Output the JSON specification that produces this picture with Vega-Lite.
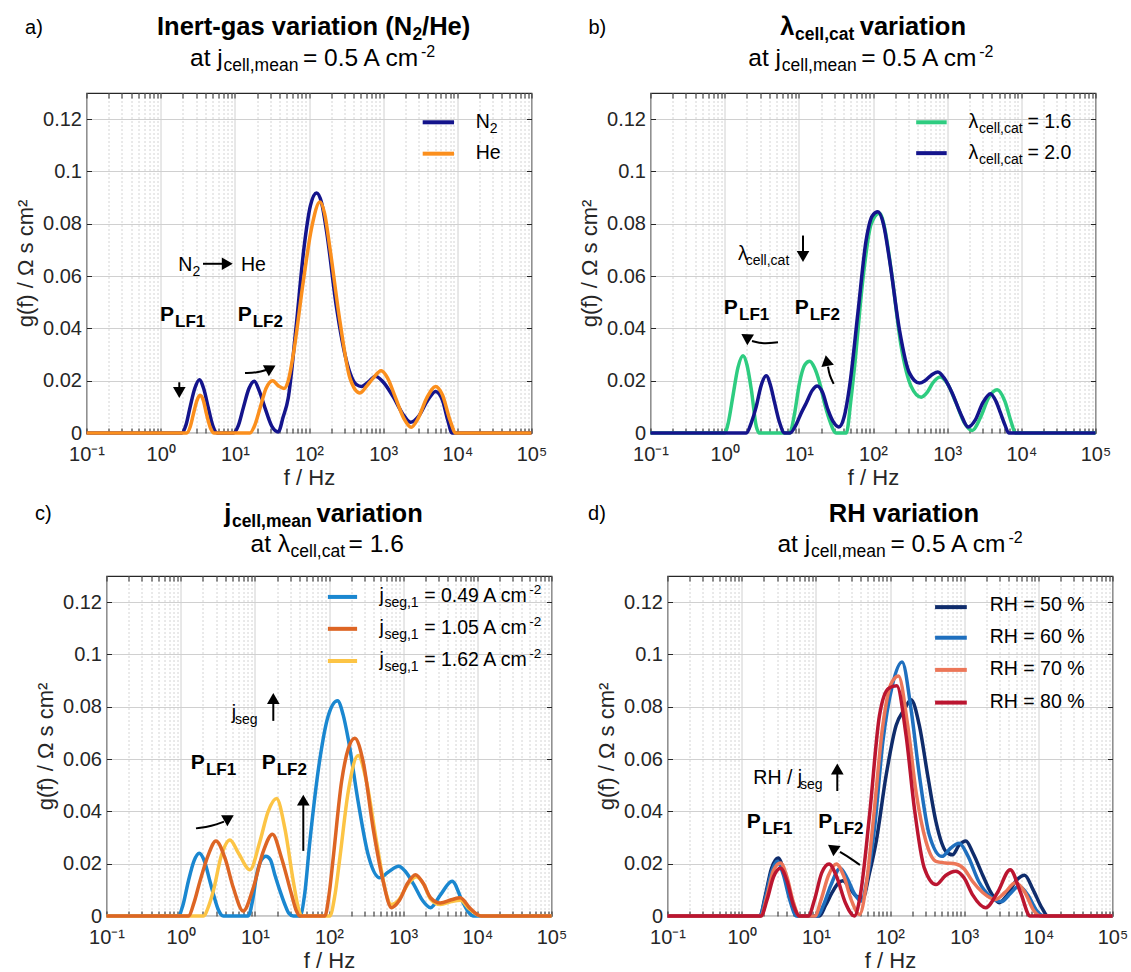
{
"$schema":"https://vega.github.io/schema/vega-lite/v6.json",
"background":"white",
"padding":{"left":13.5,"top":14,"right":5,"bottom":0},
"autosize":{"type":"pad"},
"config":{
 "font":"Liberation Sans",
 "view":{"stroke":"#262626","strokeWidth":1.2},
 "axis":{"labelFont":"Liberation Sans","titleFont":"Liberation Sans","labelColor":"#262626","titleColor":"#262626","titleFontWeight":"normal","domain":false,"ticks":true,"tickSize":-5,"tickColor":"#262626","tickWidth":1},
 "text":{"font":"Liberation Sans","align":"left","baseline":"alphabetic","color":"#000000"},
 "style":{
  "t1":{"fontSize":25.5,"fontWeight":"bold"},
  "t1s":{"fontSize":17.5,"fontWeight":"bold","dy":5},
  "t2":{"fontSize":24.5},
  "t2s":{"fontSize":17.5,"dy":5},
  "t2p":{"fontSize":16,"dy":-9},
  "lab":{"fontSize":20},
  "lg":{"fontSize":19.5},
  "lgs":{"fontSize":14,"dy":5},
  "lgp":{"fontSize":13.5,"dy":-8},
  "P":{"fontSize":21,"fontWeight":"bold"},
  "Ps":{"fontSize":17,"fontWeight":"bold","dy":6}
 }
},
"datasets":{
"r1":[
{"p":"a","k":"c","s":"N2","f":0.1,"g":0},{"p":"a","k":"c","s":"N2","f":1.92,"g":0},{"p":"a","k":"c","s":"N2","f":2.19,"g":0.003},{"p":"a","k":"c","s":"N2","f":2.48,"g":0.0096},{"p":"a","k":"c","s":"N2","f":2.88,"g":0.017},{"p":"a","k":"c","s":"N2","f":3.32,"g":0.0204},{"p":"a","k":"c","s":"N2","f":3.8,"g":0.017},{"p":"a","k":"c","s":"N2","f":4.39,"g":0.0096},{"p":"a","k":"c","s":"N2","f":5.01,"g":0.003},{"p":"a","k":"c","s":"N2","f":5.81,"g":0},{"p":"a","k":"c","s":"N2","f":9.55,"g":0},{"p":"a","k":"c","s":"N2","f":11.2,"g":0.003},{"p":"a","k":"c","s":"N2","f":13,"g":0.0096},{"p":"a","k":"c","s":"N2","f":15.5,"g":0.017},{"p":"a","k":"c","s":"N2","f":18.3,"g":0.0198},{"p":"a","k":"c","s":"N2","f":21.4,"g":0.016},{"p":"a","k":"c","s":"N2","f":25.5,"g":0.0096},{"p":"a","k":"c","s":"N2","f":31.6,"g":0.0025},{"p":"a","k":"c","s":"N2","f":38.5,"g":0.0004},{"p":"a","k":"c","s":"N2","f":44.7,"g":0.006},{"p":"a","k":"c","s":"N2","f":52.5,"g":0.0134},{"p":"a","k":"c","s":"N2","f":66.7,"g":0.04},{"p":"a","k":"c","s":"N2","f":85.5,"g":0.0707},{"p":"a","k":"c","s":"N2","f":104.7,"g":0.087},{"p":"a","k":"c","s":"N2","f":126.5,"g":0.0918},{"p":"a","k":"c","s":"N2","f":147.9,"g":0.088},{"p":"a","k":"c","s":"N2","f":172.6,"g":0.0771},{"p":"a","k":"c","s":"N2","f":235.5,"g":0.0478},{"p":"a","k":"c","s":"N2","f":321.4,"g":0.0274},{"p":"a","k":"c","s":"N2","f":437.5,"g":0.0185},{"p":"a","k":"c","s":"N2","f":511.7,"g":0.0178},{"p":"a","k":"c","s":"N2","f":631,"g":0.0195},{"p":"a","k":"c","s":"N2","f":787,"g":0.0217},{"p":"a","k":"c","s":"N2","f":1000,"g":0.0195},{"p":"a","k":"c","s":"N2","f":1393,"g":0.0134},{"p":"a","k":"c","s":"N2","f":1820,"g":0.0075},{"p":"a","k":"c","s":"N2","f":2344,"g":0.0041},{"p":"a","k":"c","s":"N2","f":3020,"g":0.0065},{"p":"a","k":"c","s":"N2","f":3981,"g":0.0125},{"p":"a","k":"c","s":"N2","f":5093,"g":0.0159},{"p":"a","k":"c","s":"N2","f":6310,"g":0.0125},{"p":"a","k":"c","s":"N2","f":7413,"g":0.005},{"p":"a","k":"c","s":"N2","f":8511,"g":0},{"p":"a","k":"c","s":"N2","f":100000,"g":0},
{"p":"a","k":"c","s":"He","f":0.1,"g":0},{"p":"a","k":"c","s":"He","f":2.24,"g":0},{"p":"a","k":"c","s":"He","f":2.51,"g":0.0025},{"p":"a","k":"c","s":"He","f":2.75,"g":0.007},{"p":"a","k":"c","s":"He","f":3.09,"g":0.0125},{"p":"a","k":"c","s":"He","f":3.39,"g":0.0144},{"p":"a","k":"c","s":"He","f":3.76,"g":0.0125},{"p":"a","k":"c","s":"He","f":4.17,"g":0.007},{"p":"a","k":"c","s":"He","f":4.68,"g":0.002},{"p":"a","k":"c","s":"He","f":5.25,"g":0},{"p":"a","k":"c","s":"He","f":16,"g":0},{"p":"a","k":"c","s":"He","f":18.6,"g":0.003},{"p":"a","k":"c","s":"He","f":21.9,"g":0.0096},{"p":"a","k":"c","s":"He","f":26.3,"g":0.017},{"p":"a","k":"c","s":"He","f":32.3,"g":0.02},{"p":"a","k":"c","s":"He","f":38.9,"g":0.018},{"p":"a","k":"c","s":"He","f":45.9,"g":0.017},{"p":"a","k":"c","s":"He","f":52.5,"g":0.02},{"p":"a","k":"c","s":"He","f":61.4,"g":0.03},{"p":"a","k":"c","s":"He","f":83.8,"g":0.058},{"p":"a","k":"c","s":"He","f":108.4,"g":0.0784},{"p":"a","k":"c","s":"He","f":140.3,"g":0.0883},{"p":"a","k":"c","s":"He","f":162.2,"g":0.084},{"p":"a","k":"c","s":"He","f":191.4,"g":0.0707},{"p":"a","k":"c","s":"He","f":261.2,"g":0.0427},{"p":"a","k":"c","s":"He","f":356.5,"g":0.021},{"p":"a","k":"c","s":"He","f":485.3,"g":0.0153},{"p":"a","k":"c","s":"He","f":602.6,"g":0.018},{"p":"a","k":"c","s":"He","f":734.5,"g":0.021},{"p":"a","k":"c","s":"He","f":939.8,"g":0.0238},{"p":"a","k":"c","s":"He","f":1148,"g":0.021},{"p":"a","k":"c","s":"He","f":1445,"g":0.014},{"p":"a","k":"c","s":"He","f":1905,"g":0.0055},{"p":"a","k":"c","s":"He","f":2388,"g":0.0022},{"p":"a","k":"c","s":"He","f":2951,"g":0.0055},{"p":"a","k":"c","s":"He","f":3890,"g":0.0135},{"p":"a","k":"c","s":"He","f":5093,"g":0.0178},{"p":"a","k":"c","s":"He","f":6310,"g":0.0145},{"p":"a","k":"c","s":"He","f":7943,"g":0.005},{"p":"a","k":"c","s":"He","f":9550,"g":0},{"p":"a","k":"c","s":"He","f":100000,"g":0},
{"p":"b","k":"c","s":"L16","f":0.1,"g":0},{"p":"b","k":"c","s":"L16","f":1,"g":0},{"p":"b","k":"c","s":"L16","f":1.12,"g":0.004},{"p":"b","k":"c","s":"L16","f":1.29,"g":0.014},{"p":"b","k":"c","s":"L16","f":1.51,"g":0.025},{"p":"b","k":"c","s":"L16","f":1.77,"g":0.0295},{"p":"b","k":"c","s":"L16","f":2,"g":0.026},{"p":"b","k":"c","s":"L16","f":2.29,"g":0.0165},{"p":"b","k":"c","s":"L16","f":2.67,"g":0.0025},{"p":"b","k":"c","s":"L16","f":2.95,"g":0},{"p":"b","k":"c","s":"L16","f":7.52,"g":0},{"p":"b","k":"c","s":"L16","f":8.71,"g":0.007},{"p":"b","k":"c","s":"L16","f":10.2,"g":0.0191},{"p":"b","k":"c","s":"L16","f":12,"g":0.026},{"p":"b","k":"c","s":"L16","f":14,"g":0.0274},{"p":"b","k":"c","s":"L16","f":16.2,"g":0.025},{"p":"b","k":"c","s":"L16","f":19.1,"g":0.0191},{"p":"b","k":"c","s":"L16","f":22.4,"g":0.011},{"p":"b","k":"c","s":"L16","f":25.9,"g":0.005},{"p":"b","k":"c","s":"L16","f":31.9,"g":0},{"p":"b","k":"c","s":"L16","f":43.7,"g":0},{"p":"b","k":"c","s":"L16","f":50.1,"g":0.012},{"p":"b","k":"c","s":"L16","f":56.4,"g":0.0254},{"p":"b","k":"c","s":"L16","f":72.9,"g":0.0585},{"p":"b","k":"c","s":"L16","f":94.6,"g":0.08},{"p":"b","k":"c","s":"L16","f":122.5,"g":0.084},{"p":"b","k":"c","s":"L16","f":144.5,"g":0.078},{"p":"b","k":"c","s":"L16","f":175.8,"g":0.0623},{"p":"b","k":"c","s":"L16","f":239.9,"g":0.0331},{"p":"b","k":"c","s":"L16","f":327.3,"g":0.0178},{"p":"b","k":"c","s":"L16","f":446.7,"g":0.0137},{"p":"b","k":"c","s":"L16","f":537,"g":0.0155},{"p":"b","k":"c","s":"L16","f":639.7,"g":0.0191},{"p":"b","k":"c","s":"L16","f":805.4,"g":0.0214},{"p":"b","k":"c","s":"L16","f":1000,"g":0.019},{"p":"b","k":"c","s":"L16","f":1318,"g":0.0115},{"p":"b","k":"c","s":"L16","f":1698,"g":0.004},{"p":"b","k":"c","s":"L16","f":2173,"g":0.001},{"p":"b","k":"c","s":"L16","f":2818,"g":0.006},{"p":"b","k":"c","s":"L16","f":3631,"g":0.0135},{"p":"b","k":"c","s":"L16","f":4721,"g":0.0165},{"p":"b","k":"c","s":"L16","f":6026,"g":0.012},{"p":"b","k":"c","s":"L16","f":7244,"g":0.0045},{"p":"b","k":"c","s":"L16","f":8318,"g":0},{"p":"b","k":"c","s":"L16","f":100000,"g":0},
{"p":"b","k":"c","s":"L20","f":0.1,"g":0},{"p":"b","k":"c","s":"L20","f":1.96,"g":0},{"p":"b","k":"c","s":"L20","f":2.29,"g":0.004},{"p":"b","k":"c","s":"L20","f":2.67,"g":0.0102},{"p":"b","k":"c","s":"L20","f":3.09,"g":0.018},{"p":"b","k":"c","s":"L20","f":3.64,"g":0.0219},{"p":"b","k":"c","s":"L20","f":4.17,"g":0.018},{"p":"b","k":"c","s":"L20","f":4.72,"g":0.0115},{"p":"b","k":"c","s":"L20","f":5.5,"g":0.004},{"p":"b","k":"c","s":"L20","f":6.43,"g":0},{"p":"b","k":"c","s":"L20","f":7.59,"g":0},{"p":"b","k":"c","s":"L20","f":9.12,"g":0.003},{"p":"b","k":"c","s":"L20","f":10.7,"g":0.0075},{"p":"b","k":"c","s":"L20","f":12.6,"g":0.0115},{"p":"b","k":"c","s":"L20","f":15.1,"g":0.0162},{"p":"b","k":"c","s":"L20","f":17.7,"g":0.018},{"p":"b","k":"c","s":"L20","f":20.9,"g":0.0155},{"p":"b","k":"c","s":"L20","f":24.7,"g":0.0089},{"p":"b","k":"c","s":"L20","f":28.8,"g":0.0045},{"p":"b","k":"c","s":"L20","f":34.7,"g":0.0023},{"p":"b","k":"c","s":"L20","f":40.7,"g":0.006},{"p":"b","k":"c","s":"L20","f":48.3,"g":0.0178},{"p":"b","k":"c","s":"L20","f":62.5,"g":0.0458},{"p":"b","k":"c","s":"L20","f":80.9,"g":0.0738},{"p":"b","k":"c","s":"L20","f":97.7,"g":0.083},{"p":"b","k":"c","s":"L20","f":116.4,"g":0.0846},{"p":"b","k":"c","s":"L20","f":138,"g":0.08},{"p":"b","k":"c","s":"L20","f":167.1,"g":0.0662},{"p":"b","k":"c","s":"L20","f":227.5,"g":0.0394},{"p":"b","k":"c","s":"L20","f":310.5,"g":0.0229},{"p":"b","k":"c","s":"L20","f":423.6,"g":0.0191},{"p":"b","k":"c","s":"L20","f":501.2,"g":0.02},{"p":"b","k":"c","s":"L20","f":616.6,"g":0.0222},{"p":"b","k":"c","s":"L20","f":748.2,"g":0.0233},{"p":"b","k":"c","s":"L20","f":912,"g":0.021},{"p":"b","k":"c","s":"L20","f":1167,"g":0.0153},{"p":"b","k":"c","s":"L20","f":1514,"g":0.0075},{"p":"b","k":"c","s":"L20","f":1919,"g":0.0023},{"p":"b","k":"c","s":"L20","f":2399,"g":0.005},{"p":"b","k":"c","s":"L20","f":3020,"g":0.0115},{"p":"b","k":"c","s":"L20","f":3837,"g":0.015},{"p":"b","k":"c","s":"L20","f":4571,"g":0.012},{"p":"b","k":"c","s":"L20","f":5248,"g":0.0076},{"p":"b","k":"c","s":"L20","f":6026,"g":0.003},{"p":"b","k":"c","s":"L20","f":6761,"g":0},{"p":"b","k":"c","s":"L20","f":100000,"g":0},
{"p":"a","k":"leg","s":"N2","f":3411,"f2":9015,"g":0.1188},{"p":"a","k":"leg","s":"He","f":3411,"f2":9015,"g":0.1068},
{"p":"b","k":"leg","s":"L16","f":382.2,"f2":985.1,"g":0.1188},{"p":"b","k":"leg","s":"L20","f":382.2,"f2":985.1,"g":0.107},
{"p":"a","k":"lab","f":0.01483,"g":0.1526,"t":"a)"},
{"p":"a","k":"t1","f":0.8922,"g":0.152,"t":"Inert-gas variation (N"},{"p":"a","k":"t1s","f":2493,"g":0.152,"t":"2"},{"p":"a","k":"t1","f":3348,"g":0.152,"t":"/He)"},
{"p":"a","k":"t2","f":2.486,"g":0.1405,"t":"at j"},{"p":"a","k":"t2s","f":7.033,"g":0.1405,"t":"cell,mean"},{"p":"a","k":"t2","f":82.99,"g":0.1405,"t":"= 0.5 A cm"},{"p":"a","k":"t2p","f":3235,"g":0.1405,"t":"-2"},
{"p":"a","k":"lg","f":17680,"g":0.1168,"t":"N"},{"p":"a","k":"lgs","f":27390,"g":0.1168,"t":"2"},{"p":"a","k":"lg","f":17680,"g":0.1048,"t":"He"},
{"p":"a","k":"lg","f":1.729,"g":0.0619,"t":"N"},{"p":"a","k":"lgs","f":2.678,"g":0.0619,"t":"2"},{"p":"a","k":"lg","f":12.11,"g":0.0619,"t":"He"},
{"p":"a","k":"P","f":0.9794,"g":0.043,"t":"P"},{"p":"a","k":"Ps","f":1.561,"g":0.043,"t":"LF1"},{"p":"a","k":"P","f":10.93,"g":0.043,"t":"P"},{"p":"a","k":"Ps","f":17.41,"g":0.043,"t":"LF2"},
{"p":"a","k":"ar","id":"a1","o":0,"f":3.722,"g":0.0647},{"p":"a","k":"ar","id":"a1","o":1,"f":7.6,"g":0.0647},{"p":"a","k":"ah","f":7.912,"g":0.0647,"a":90},
{"p":"a","k":"ar","id":"a2","o":0,"f":1.783,"g":0.0194},{"p":"a","k":"ar","id":"a2","o":1,"f":1.783,"g":0.016},{"p":"a","k":"ah","f":1.783,"g":0.0155,"a":180},
{"p":"a","k":"ar","id":"a3","o":0,"f":13.71,"g":0.0229},{"p":"a","k":"ar","id":"a3","o":1,"f":20,"g":0.0231},{"p":"a","k":"ar","id":"a3","o":2,"f":27,"g":0.0242},{"p":"a","k":"ah","f":30.45,"g":0.0248,"a":62},
{"p":"b","k":"lab","f":0.01455,"g":0.1526,"t":"b)"},
{"p":"b","k":"t1","f":5.623,"g":0.152,"t":"λ"},{"p":"b","k":"t1s","f":8.876,"g":0.152,"t":"cell,cat"},{"p":"b","k":"t1","f":66.17,"g":0.152,"t":"variation"},
{"p":"b","k":"t2","f":2.083,"g":0.1405,"t":"at j"},{"p":"b","k":"t2s","f":5.892,"g":0.1405,"t":"cell,mean"},{"p":"b","k":"t2","f":69.53,"g":0.1405,"t":"= 0.5 A cm"},{"p":"b","k":"t2p","f":2711,"g":0.1405,"t":"-2"},
{"p":"b","k":"lg","f":1944,"g":0.1168,"t":"λ"},{"p":"b","k":"lgs","f":2694,"g":0.1168,"t":"cell,cat"},{"p":"b","k":"lg","f":12066,"g":0.1168,"t":"= 1.6"},
{"p":"b","k":"lg","f":1944,"g":0.1048,"t":"λ"},{"p":"b","k":"lgs","f":2694,"g":0.1048,"t":"cell,cat"},{"p":"b","k":"lg","f":12066,"g":0.1048,"t":"= 2.0"},
{"p":"b","k":"lg","f":1.512,"g":0.066,"t":"λ"},{"p":"b","k":"lgs","f":1.921,"g":0.066,"t":"cell,cat"},
{"p":"b","k":"P","f":0.9703,"g":0.0456,"t":"P"},{"p":"b","k":"Ps","f":1.561,"g":0.0456,"t":"LF1"},{"p":"b","k":"P","f":8.796,"g":0.0456,"t":"P"},{"p":"b","k":"Ps","f":14.01,"g":0.0456,"t":"LF2"},
{"p":"b","k":"ar","id":"b1","o":0,"f":11.38,"g":0.0755},{"p":"b","k":"ar","id":"b1","o":1,"f":11.38,"g":0.069},{"p":"b","k":"ah","f":11.38,"g":0.0675,"a":180},
{"p":"b","k":"ar","id":"b2","o":0,"f":5.236,"g":0.0347},{"p":"b","k":"ar","id":"b2","o":1,"f":3.318,"g":0.034},{"p":"b","k":"ar","id":"b2","o":2,"f":2.336,"g":0.0352},{"p":"b","k":"ah","f":1.939,"g":0.0367,"a":302},
{"p":"b","k":"ar","id":"b3","o":0,"f":29.51,"g":0.0188},{"p":"b","k":"ar","id":"b3","o":1,"f":25.9,"g":0.022},{"p":"b","k":"ar","id":"b3","o":2,"f":24.73,"g":0.0254},{"p":"b","k":"ah","f":23.75,"g":0.0277,"a":350}
],
"r2":[
{"p":"c","k":"c","s":"J049","f":0.1,"g":0},{"p":"c","k":"c","s":"J049","f":0.93,"g":0},{"p":"c","k":"c","s":"J049","f":1.07,"g":0.004},{"p":"c","k":"c","s":"J049","f":1.27,"g":0.0133},{"p":"c","k":"c","s":"J049","f":1.51,"g":0.021},{"p":"c","k":"c","s":"J049","f":1.78,"g":0.024},{"p":"c","k":"c","s":"J049","f":2.09,"g":0.021},{"p":"c","k":"c","s":"J049","f":2.48,"g":0.0133},{"p":"c","k":"c","s":"J049","f":2.82,"g":0.0075},{"p":"c","k":"c","s":"J049","f":3.21,"g":0.0025},{"p":"c","k":"c","s":"J049","f":3.76,"g":0},{"p":"c","k":"c","s":"J049","f":8.13,"g":0},{"p":"c","k":"c","s":"J049","f":9.33,"g":0.006},{"p":"c","k":"c","s":"J049","f":10.6,"g":0.0158},{"p":"c","k":"c","s":"J049","f":12.3,"g":0.0215},{"p":"c","k":"c","s":"J049","f":14.1,"g":0.0228},{"p":"c","k":"c","s":"J049","f":16.2,"g":0.0215},{"p":"c","k":"c","s":"J049","f":18.6,"g":0.0158},{"p":"c","k":"c","s":"J049","f":21.9,"g":0.0095},{"p":"c","k":"c","s":"J049","f":25.4,"g":0.0044},{"p":"c","k":"c","s":"J049","f":28.8,"g":0.001},{"p":"c","k":"c","s":"J049","f":33,"g":0},{"p":"c","k":"c","s":"J049","f":40.7,"g":0},{"p":"c","k":"c","s":"J049","f":46.8,"g":0.008},{"p":"c","k":"c","s":"J049","f":55.2,"g":0.0285},{"p":"c","k":"c","s":"J049","f":75.3,"g":0.06},{"p":"c","k":"c","s":"J049","f":97.7,"g":0.0766},{"p":"c","k":"c","s":"J049","f":130.3,"g":0.0823},{"p":"c","k":"c","s":"J049","f":154.9,"g":0.077},{"p":"c","k":"c","s":"J049","f":181.6,"g":0.0677},{"p":"c","k":"c","s":"J049","f":247.2,"g":0.0437},{"p":"c","k":"c","s":"J049","f":337.3,"g":0.0234},{"p":"c","k":"c","s":"J049","f":484.2,"g":0.0146},{"p":"c","k":"c","s":"J049","f":631,"g":0.0168},{"p":"c","k":"c","s":"J049","f":871,"g":0.019},{"p":"c","k":"c","s":"J049","f":1072,"g":0.017},{"p":"c","k":"c","s":"J049","f":1393,"g":0.012},{"p":"c","k":"c","s":"J049","f":1820,"g":0.006},{"p":"c","k":"c","s":"J049","f":2339,"g":0.0032},{"p":"c","k":"c","s":"J049","f":3162,"g":0.008},{"p":"c","k":"c","s":"J049","f":4571,"g":0.0133},{"p":"c","k":"c","s":"J049","f":6266,"g":0.0057},{"p":"c","k":"c","s":"J049","f":7586,"g":0.0015},{"p":"c","k":"c","s":"J049","f":8913,"g":0},{"p":"c","k":"c","s":"J049","f":100000,"g":0},
{"p":"c","k":"c","s":"J162","f":0.1,"g":0},{"p":"c","k":"c","s":"J162","f":2.02,"g":0},{"p":"c","k":"c","s":"J162","f":2.4,"g":0.004},{"p":"c","k":"c","s":"J162","f":2.75,"g":0.0095},{"p":"c","k":"c","s":"J162","f":3.56,"g":0.0234},{"p":"c","k":"c","s":"J162","f":4.62,"g":0.0291},{"p":"c","k":"c","s":"J162","f":6.03,"g":0.024},{"p":"c","k":"c","s":"J162","f":8.59,"g":0.0177},{"p":"c","k":"c","s":"J162","f":11.7,"g":0.0285},{"p":"c","k":"c","s":"J162","f":15.1,"g":0.0399},{"p":"c","k":"c","s":"J162","f":19.6,"g":0.0449},{"p":"c","k":"c","s":"J162","f":25.4,"g":0.0335},{"p":"c","k":"c","s":"J162","f":33,"g":0.0133},{"p":"c","k":"c","s":"J162","f":38.5,"g":0.0032},{"p":"c","k":"c","s":"J162","f":42.7,"g":0},{"p":"c","k":"c","s":"J162","f":102.3,"g":0},{"p":"c","k":"c","s":"J162","f":120.2,"g":0.008},{"p":"c","k":"c","s":"J162","f":140,"g":0.0222},{"p":"c","k":"c","s":"J162","f":181.6,"g":0.0475},{"p":"c","k":"c","s":"J162","f":247.2,"g":0.0614},{"p":"c","k":"c","s":"J162","f":320.6,"g":0.0513},{"p":"c","k":"c","s":"J162","f":436.5,"g":0.0285},{"p":"c","k":"c","s":"J162","f":595.7,"g":0.0082},{"p":"c","k":"c","s":"J162","f":676,"g":0.0044},{"p":"c","k":"c","s":"J162","f":891,"g":0.0065},{"p":"c","k":"c","s":"J162","f":1148,"g":0.012},{"p":"c","k":"c","s":"J162","f":1500,"g":0.015},{"p":"c","k":"c","s":"J162","f":1905,"g":0.012},{"p":"c","k":"c","s":"J162","f":2339,"g":0.0065},{"p":"c","k":"c","s":"J162","f":3162,"g":0.0044},{"p":"c","k":"c","s":"J162","f":4467,"g":0.0055},{"p":"c","k":"c","s":"J162","f":5888,"g":0.006},{"p":"c","k":"c","s":"J162","f":7943,"g":0.0025},{"p":"c","k":"c","s":"J162","f":11220,"g":0},{"p":"c","k":"c","s":"J162","f":100000,"g":0},
{"p":"c","k":"c","s":"J105","f":0.1,"g":0},{"p":"c","k":"c","s":"J105","f":1.27,"g":0},{"p":"c","k":"c","s":"J105","f":1.51,"g":0.005},{"p":"c","k":"c","s":"J105","f":1.82,"g":0.0133},{"p":"c","k":"c","s":"J105","f":2.36,"g":0.0234},{"p":"c","k":"c","s":"J105","f":2.99,"g":0.0287},{"p":"c","k":"c","s":"J105","f":3.95,"g":0.0222},{"p":"c","k":"c","s":"J105","f":5.13,"g":0.0108},{"p":"c","k":"c","s":"J105","f":6.98,"g":0.0019},{"p":"c","k":"c","s":"J105","f":9.53,"g":0.0108},{"p":"c","k":"c","s":"J105","f":13,"g":0.0247},{"p":"c","k":"c","s":"J105","f":17.3,"g":0.0313},{"p":"c","k":"c","s":"J105","f":22.9,"g":0.0222},{"p":"c","k":"c","s":"J105","f":31.3,"g":0.0082},{"p":"c","k":"c","s":"J105","f":36.3,"g":0.002},{"p":"c","k":"c","s":"J105","f":40.5,"g":0},{"p":"c","k":"c","s":"J105","f":87.9,"g":0},{"p":"c","k":"c","s":"J105","f":100,"g":0.008},{"p":"c","k":"c","s":"J105","f":114,"g":0.0222},{"p":"c","k":"c","s":"J105","f":147.6,"g":0.0513},{"p":"c","k":"c","s":"J105","f":182,"g":0.064},{"p":"c","k":"c","s":"J105","f":222.8,"g":0.068},{"p":"c","k":"c","s":"J105","f":289,"g":0.0589},{"p":"c","k":"c","s":"J105","f":393.6,"g":0.0335},{"p":"c","k":"c","s":"J105","f":537,"g":0.0133},{"p":"c","k":"c","s":"J105","f":695,"g":0.0032},{"p":"c","k":"c","s":"J105","f":891,"g":0.006},{"p":"c","k":"c","s":"J105","f":1148,"g":0.0125},{"p":"c","k":"c","s":"J105","f":1466,"g":0.0158},{"p":"c","k":"c","s":"J105","f":1862,"g":0.0125},{"p":"c","k":"c","s":"J105","f":2339,"g":0.007},{"p":"c","k":"c","s":"J105","f":3162,"g":0.005},{"p":"c","k":"c","s":"J105","f":4467,"g":0.0062},{"p":"c","k":"c","s":"J105","f":5888,"g":0.007},{"p":"c","k":"c","s":"J105","f":7943,"g":0.003},{"p":"c","k":"c","s":"J105","f":11220,"g":0},{"p":"c","k":"c","s":"J105","f":100000,"g":0},
{"p":"d","k":"c","s":"R50","f":0.1,"g":0},{"p":"d","k":"c","s":"R50","f":1.76,"g":0},{"p":"d","k":"c","s":"R50","f":2.09,"g":0.008},{"p":"d","k":"c","s":"R50","f":2.51,"g":0.018},{"p":"d","k":"c","s":"R50","f":3.11,"g":0.0222},{"p":"d","k":"c","s":"R50","f":3.8,"g":0.016},{"p":"d","k":"c","s":"R50","f":4.68,"g":0.006},{"p":"d","k":"c","s":"R50","f":5.77,"g":0},{"p":"d","k":"c","s":"R50","f":11.2,"g":0},{"p":"d","k":"c","s":"R50","f":13.5,"g":0.004},{"p":"d","k":"c","s":"R50","f":16.6,"g":0.009},{"p":"d","k":"c","s":"R50","f":20,"g":0.0125},{"p":"d","k":"c","s":"R50","f":23.2,"g":0.0135},{"p":"d","k":"c","s":"R50","f":28.2,"g":0.011},{"p":"d","k":"c","s":"R50","f":35.5,"g":0.0075},{"p":"d","k":"c","s":"R50","f":43.2,"g":0.007},{"p":"d","k":"c","s":"R50","f":52.5,"g":0.016},{"p":"d","k":"c","s":"R50","f":65.2,"g":0.0285},{"p":"d","k":"c","s":"R50","f":88.7,"g":0.0538},{"p":"d","k":"c","s":"R50","f":120.8,"g":0.0728},{"p":"d","k":"c","s":"R50","f":156.3,"g":0.079},{"p":"d","k":"c","s":"R50","f":192.3,"g":0.0827},{"p":"d","k":"c","s":"R50","f":248.9,"g":0.0728},{"p":"d","k":"c","s":"R50","f":322.1,"g":0.0538},{"p":"d","k":"c","s":"R50","f":416.9,"g":0.036},{"p":"d","k":"c","s":"R50","f":567.5,"g":0.0247},{"p":"d","k":"c","s":"R50","f":698.2,"g":0.0234},{"p":"d","k":"c","s":"R50","f":851,"g":0.027},{"p":"d","k":"c","s":"R50","f":1054,"g":0.0287},{"p":"d","k":"c","s":"R50","f":1318,"g":0.024},{"p":"d","k":"c","s":"R50","f":1766,"g":0.0158},{"p":"d","k":"c","s":"R50","f":2291,"g":0.009},{"p":"d","k":"c","s":"R50","f":2951,"g":0.0051},{"p":"d","k":"c","s":"R50","f":3802,"g":0.008},{"p":"d","k":"c","s":"R50","f":5012,"g":0.0135},{"p":"d","k":"c","s":"R50","f":6531,"g":0.0156},{"p":"d","k":"c","s":"R50","f":8511,"g":0.01},{"p":"d","k":"c","s":"R50","f":11220,"g":0.003},{"p":"d","k":"c","s":"R50","f":13490,"g":0},{"p":"d","k":"c","s":"R50","f":100000,"g":0},
{"p":"d","k":"c","s":"R60","f":0.1,"g":0},{"p":"d","k":"c","s":"R60","f":1.74,"g":0},{"p":"d","k":"c","s":"R60","f":2.09,"g":0.007},{"p":"d","k":"c","s":"R60","f":2.51,"g":0.0165},{"p":"d","k":"c","s":"R60","f":3.01,"g":0.0209},{"p":"d","k":"c","s":"R60","f":3.63,"g":0.016},{"p":"d","k":"c","s":"R60","f":4.47,"g":0.006},{"p":"d","k":"c","s":"R60","f":5.5,"g":0},{"p":"d","k":"c","s":"R60","f":10.5,"g":0},{"p":"d","k":"c","s":"R60","f":12.6,"g":0.004},{"p":"d","k":"c","s":"R60","f":15.8,"g":0.0115},{"p":"d","k":"c","s":"R60","f":21.4,"g":0.0183},{"p":"d","k":"c","s":"R60","f":26.9,"g":0.014},{"p":"d","k":"c","s":"R60","f":33.1,"g":0.0085},{"p":"d","k":"c","s":"R60","f":40.9,"g":0.0057},{"p":"d","k":"c","s":"R60","f":50.1,"g":0.0155},{"p":"d","k":"c","s":"R60","f":61.8,"g":0.0335},{"p":"d","k":"c","s":"R60","f":80,"g":0.0665},{"p":"d","k":"c","s":"R60","f":107.2,"g":0.088},{"p":"d","k":"c","s":"R60","f":145.5,"g":0.0971},{"p":"d","k":"c","s":"R60","f":192.3,"g":0.079},{"p":"d","k":"c","s":"R60","f":248.9,"g":0.0538},{"p":"d","k":"c","s":"R60","f":338.8,"g":0.031},{"p":"d","k":"c","s":"R60","f":501.2,"g":0.0228},{"p":"d","k":"c","s":"R60","f":660.7,"g":0.026},{"p":"d","k":"c","s":"R60","f":857,"g":0.0278},{"p":"d","k":"c","s":"R60","f":1122,"g":0.023},{"p":"d","k":"c","s":"R60","f":1585,"g":0.013},{"p":"d","k":"c","s":"R60","f":2239,"g":0.0075},{"p":"d","k":"c","s":"R60","f":3162,"g":0.0055},{"p":"d","k":"c","s":"R60","f":4169,"g":0.0085},{"p":"d","k":"c","s":"R60","f":5495,"g":0.0114},{"p":"d","k":"c","s":"R60","f":7244,"g":0.008},{"p":"d","k":"c","s":"R60","f":9550,"g":0.002},{"p":"d","k":"c","s":"R60","f":12020,"g":0},{"p":"d","k":"c","s":"R60","f":100000,"g":0},
{"p":"d","k":"c","s":"R70","f":0.1,"g":0},{"p":"d","k":"c","s":"R70","f":1.82,"g":0},{"p":"d","k":"c","s":"R70","f":2.19,"g":0.0075},{"p":"d","k":"c","s":"R70","f":2.69,"g":0.0175},{"p":"d","k":"c","s":"R70","f":3.34,"g":0.0203},{"p":"d","k":"c","s":"R70","f":4.07,"g":0.015},{"p":"d","k":"c","s":"R70","f":5.01,"g":0.005},{"p":"d","k":"c","s":"R70","f":6.03,"g":0},{"p":"d","k":"c","s":"R70","f":9.77,"g":0},{"p":"d","k":"c","s":"R70","f":11.7,"g":0.006},{"p":"d","k":"c","s":"R70","f":14.8,"g":0.0155},{"p":"d","k":"c","s":"R70","f":18.9,"g":0.0199},{"p":"d","k":"c","s":"R70","f":24,"g":0.015},{"p":"d","k":"c","s":"R70","f":30.2,"g":0.006},{"p":"d","k":"c","s":"R70","f":38.9,"g":0.0006},{"p":"d","k":"c","s":"R70","f":47.9,"g":0.012},{"p":"d","k":"c","s":"R70","f":58.7,"g":0.0348},{"p":"d","k":"c","s":"R70","f":80,"g":0.0728},{"p":"d","k":"c","s":"R70","f":102.3,"g":0.0885},{"p":"d","k":"c","s":"R70","f":130,"g":0.0918},{"p":"d","k":"c","s":"R70","f":173.4,"g":0.0728},{"p":"d","k":"c","s":"R70","f":224.4,"g":0.0475},{"p":"d","k":"c","s":"R70","f":305.5,"g":0.0285},{"p":"d","k":"c","s":"R70","f":416.9,"g":0.0209},{"p":"d","k":"c","s":"R70","f":562.3,"g":0.0203},{"p":"d","k":"c","s":"R70","f":774.5,"g":0.0199},{"p":"d","k":"c","s":"R70","f":1000,"g":0.018},{"p":"d","k":"c","s":"R70","f":1294,"g":0.0133},{"p":"d","k":"c","s":"R70","f":1778,"g":0.009},{"p":"d","k":"c","s":"R70","f":2630,"g":0.0063},{"p":"d","k":"c","s":"R70","f":3548,"g":0.009},{"p":"d","k":"c","s":"R70","f":4898,"g":0.0127},{"p":"d","k":"c","s":"R70","f":6607,"g":0.009},{"p":"d","k":"c","s":"R70","f":8710,"g":0.002},{"p":"d","k":"c","s":"R70","f":10720,"g":0},{"p":"d","k":"c","s":"R70","f":100000,"g":0},
{"p":"d","k":"c","s":"R80","f":0.1,"g":0},{"p":"d","k":"c","s":"R80","f":1.82,"g":0},{"p":"d","k":"c","s":"R80","f":2.19,"g":0.006},{"p":"d","k":"c","s":"R80","f":2.69,"g":0.015},{"p":"d","k":"c","s":"R80","f":3.34,"g":0.0183},{"p":"d","k":"c","s":"R80","f":4.07,"g":0.0135},{"p":"d","k":"c","s":"R80","f":5.01,"g":0.004},{"p":"d","k":"c","s":"R80","f":6.03,"g":0},{"p":"d","k":"c","s":"R80","f":7.94,"g":0},{"p":"d","k":"c","s":"R80","f":9.55,"g":0.006},{"p":"d","k":"c","s":"R80","f":12,"g":0.0165},{"p":"d","k":"c","s":"R80","f":15.1,"g":0.0199},{"p":"d","k":"c","s":"R80","f":19.1,"g":0.015},{"p":"d","k":"c","s":"R80","f":25.1,"g":0.005},{"p":"d","k":"c","s":"R80","f":33.1,"g":0},{"p":"d","k":"c","s":"R80","f":39.8,"g":0.008},{"p":"d","k":"c","s":"R80","f":53,"g":0.0386},{"p":"d","k":"c","s":"R80","f":72.1,"g":0.0766},{"p":"d","k":"c","s":"R80","f":95.5,"g":0.087},{"p":"d","k":"c","s":"R80","f":123.3,"g":0.088},{"p":"d","k":"c","s":"R80","f":164.8,"g":0.069},{"p":"d","k":"c","s":"R80","f":213.3,"g":0.0411},{"p":"d","k":"c","s":"R80","f":290.4,"g":0.0183},{"p":"d","k":"c","s":"R80","f":416.9,"g":0.012},{"p":"d","k":"c","s":"R80","f":562.3,"g":0.0155},{"p":"d","k":"c","s":"R80","f":774.5,"g":0.0171},{"p":"d","k":"c","s":"R80","f":1000,"g":0.0145},{"p":"d","k":"c","s":"R80","f":1294,"g":0.0082},{"p":"d","k":"c","s":"R80","f":1950,"g":0.0032},{"p":"d","k":"c","s":"R80","f":2818,"g":0.009},{"p":"d","k":"c","s":"R80","f":4169,"g":0.0177},{"p":"d","k":"c","s":"R80","f":5754,"g":0.009},{"p":"d","k":"c","s":"R80","f":7762,"g":0},{"p":"d","k":"c","s":"R80","f":100000,"g":0},
{"p":"c","k":"leg","s":"J049","f":96.6,"f2":239.2,"g":0.122},{"p":"c","k":"leg","s":"J105","f":96.6,"f2":239.2,"g":0.1098},{"p":"c","k":"leg","s":"J162","f":96.6,"f2":239.2,"g":0.0975},
{"p":"d","k":"leg","s":"R50","f":405.4,"f2":1085,"g":0.1181},{"p":"d","k":"leg","s":"R60","f":405.4,"f2":1085,"g":0.1064},{"p":"d","k":"leg","s":"R70","f":405.4,"f2":1085,"g":0.0941},{"p":"d","k":"leg","s":"R80","f":405.4,"f2":1085,"g":0.0816},
{"p":"c","k":"lab","f":0.01086,"g":0.1514,"t":"c)"},
{"p":"c","k":"t1","f":3.876,"g":0.1506,"t":"j"},{"p":"c","k":"t1s","f":4.906,"g":0.1506,"t":"cell,mean"},{"p":"c","k":"t1","f":67.82,"g":0.1506,"t":"variation"},
{"p":"c","k":"t2","f":8.767,"g":0.139,"t":"at λ"},{"p":"c","k":"t2s","f":30.35,"g":0.139,"t":"cell,cat"},{"p":"c","k":"t2","f":183.8,"g":0.139,"t":"= 1.6"},
{"p":"c","k":"lg","f":481,"g":0.1202,"t":"j"},{"p":"c","k":"lgs","f":558.3,"g":0.1202,"t":"seg,1"},{"p":"c","k":"lg","f":1920,"g":0.1202,"t":"= 0.49 A cm"},{"p":"c","k":"lgp","f":50010,"g":0.1202,"t":"-2"},
{"p":"c","k":"lg","f":481,"g":0.1079,"t":"j"},{"p":"c","k":"lgs","f":558.3,"g":0.1079,"t":"seg,1"},{"p":"c","k":"lg","f":1920,"g":0.1079,"t":"= 1.05 A cm"},{"p":"c","k":"lgp","f":50010,"g":0.1079,"t":"-2"},
{"p":"c","k":"lg","f":481,"g":0.0956,"t":"j"},{"p":"c","k":"lgs","f":558.3,"g":0.0956,"t":"seg,1"},{"p":"c","k":"lg","f":1920,"g":0.0956,"t":"= 1.62 A cm"},{"p":"c","k":"lgp","f":50010,"g":0.0956,"t":"-2"},
{"p":"c","k":"lg","f":4.875,"g":0.0752,"t":"j"},{"p":"c","k":"lgs","f":5.401,"g":0.0752,"t":"seg"},
{"p":"c","k":"P","f":1.365,"g":0.0561,"t":"P"},{"p":"c","k":"Ps","f":2.195,"g":0.0561,"t":"LF1"},{"p":"c","k":"P","f":12.38,"g":0.0561,"t":"P"},{"p":"c","k":"Ps","f":19.71,"g":0.0561,"t":"LF2"},
{"p":"c","k":"ar","id":"c1","o":0,"f":17.74,"g":0.0746},{"p":"c","k":"ar","id":"c1","o":1,"f":17.74,"g":0.082},{"p":"c","k":"ah","f":17.74,"g":0.0832,"a":0},
{"p":"c","k":"ar","id":"c2","o":0,"f":1.609,"g":0.0335},{"p":"c","k":"ar","id":"c2","o":1,"f":2.645,"g":0.0344},{"p":"c","k":"ar","id":"c2","o":2,"f":3.839,"g":0.0361},{"p":"c","k":"ah","f":4.483,"g":0.0375,"a":60},
{"p":"c","k":"ar","id":"c3","o":0,"f":45.02,"g":0.0249},{"p":"c","k":"ar","id":"c3","o":1,"f":45.02,"g":0.0428},{"p":"c","k":"ah","f":45.02,"g":0.0443,"a":0},
{"p":"d","k":"lab","f":0.00848,"g":0.1514,"t":"d)"},
{"p":"d","k":"t1","f":14.96,"g":0.1506,"t":"RH variation"},
{"p":"d","k":"t2","f":3.032,"g":0.139,"t":"at j"},{"p":"d","k":"t2s","f":8.58,"g":0.139,"t":"cell,mean"},{"p":"d","k":"t2","f":101.2,"g":0.139,"t":"= 0.5 A cm"},{"p":"d","k":"t2p","f":3948,"g":0.139,"t":"-2"},
{"p":"d","k":"lg","f":2209,"g":0.1166,"t":"RH = 50 %"},{"p":"d","k":"lg","f":2209,"g":0.1045,"t":"RH = 60 %"},{"p":"d","k":"lg","f":2209,"g":0.0921,"t":"RH = 70 %"},{"p":"d","k":"lg","f":2209,"g":0.0796,"t":"RH = 80 %"},
{"p":"d","k":"lg","f":1.435,"g":0.0503,"t":"RH / j"},{"p":"d","k":"lgs","f":6.116,"g":0.0503,"t":"seg"},
{"p":"d","k":"P","f":1.169,"g":0.0338,"t":"P"},{"p":"d","k":"Ps","f":1.897,"g":0.0338,"t":"LF1"},{"p":"d","k":"P","f":10.79,"g":0.0338,"t":"P"},{"p":"d","k":"Ps","f":17.2,"g":0.0338,"t":"LF2"},
{"p":"d","k":"ar","id":"d1","o":0,"f":19.47,"g":0.0478},{"p":"d","k":"ar","id":"d1","o":1,"f":19.47,"g":0.055},{"p":"d","k":"ah","f":19.47,"g":0.0562,"a":0},
{"p":"d","k":"ar","id":"d2","o":0,"f":39.39,"g":0.0195},{"p":"d","k":"ar","id":"d2","o":1,"f":28.88,"g":0.0222},{"p":"d","k":"ar","id":"d2","o":2,"f":21.17,"g":0.0245},{"p":"d","k":"ah","f":16.77,"g":0.026,"a":305}
]
},
"spacing":483,
"bounds":"flush",
"vconcat":[
{"data":{"name":"r1"},
 "facet":{"column":{"field":"p","type":"nominal","header":{"labels":false,"title":null}}},
 "spacing":{"column":119},
 "bounds":"flush",
 "resolve":{"axis":{"x":"independent","y":"independent"}},
 "spec":{"width":445,"height":340,"resolve":{"axis":{"x":"independent","y":"independent"}},"layer":[
  {"transform":[{"filter":"datum.k=='c'"}],"mark":{"type":"line","interpolate":"monotone","strokeWidth":3.5,"strokeJoin":"round"},
   "encoding":{
    "x":{"field":"f","type":"quantitative","scale":{"type":"log","domain":[0.1,100000]},
     "axis":{"orient":"bottom","values":[0.1,0.2,0.3,0.4,0.5,0.6,0.7,0.8,0.9,1,2,3,4,5,6,7,8,9,10,20,30,40,50,60,70,80,90,100,200,300,400,500,600,700,800,900,1000,2000,3000,4000,5000,6000,7000,8000,9000,10000,20000,30000,40000,50000,60000,70000,80000,90000,100000],
      "labelExpr":"abs(log(datum.value)/LN10-round(log(datum.value)/LN10))<0.01 ? ['10⁻¹','10⁰','10¹','10²','10³','10⁴','10⁵'][round(log(datum.value)/LN10)+1] : ''",
      "labelFontSize":20,"labelPadding":16,"labelOverlap":false,"labelFlush":false,"labelBound":false,
      "title":"f / Hz","titleFontSize":22,"titlePadding":3,"grid":true,"gridWidth":1,
      "gridColor":{"condition":{"test":"abs(log(datum.value)/LN10-round(log(datum.value)/LN10))<0.01","value":"#d0d0d0"},"value":"#a8a8a8"},
      "gridDash":{"condition":{"test":"abs(log(datum.value)/LN10-round(log(datum.value)/LN10))<0.01","value":[]},"value":[1,3]}}},
    "y":{"field":"g","type":"quantitative","scale":{"domain":[0,0.13],"nice":false,"zero":false},
     "axis":{"orient":"left","values":[0,0.02,0.04,0.06,0.08,0.1,0.12],"labelExpr":"format(datum.value,'~g')","labelFontSize":20,"labelPadding":10,"title":"g(f) / Ω s cm²","titleFontSize":22,"titlePadding":5,"grid":true,"gridColor":"#d0d0d0"}},
    "color":{"field":"s","type":"nominal","scale":{"domain":["N2","He","L16","L20","J049","J105","J162","R50","R60","R70","R80"],"range":["#14148c","#fb8f1d","#2ecc80","#14148c","#1a87d0","#dd6524","#fcc445","#0f2c6b","#1f6fbe","#ec7658","#bb1530"]},"legend":null}}},
  {"transform":[{"filter":"datum.k=='leg'"}],"mark":{"type":"rule","strokeWidth":4},"encoding":{
    "x":{"field":"f","type":"quantitative","axis":{"orient":"top","values":[0.1,0.2,0.3,0.4,0.5,0.6,0.7,0.8,0.9,1,2,3,4,5,6,7,8,9,10,20,30,40,50,60,70,80,90,100,200,300,400,500,600,700,800,900,1000,2000,3000,4000,5000,6000,7000,8000,9000,10000,20000,30000,40000,50000,60000,70000,80000,90000,100000],"labels":false,"grid":false,"title":null}},
    "x2":{"field":"f2"},
    "y":{"field":"g","type":"quantitative","axis":{"orient":"right","values":[0,0.02,0.04,0.06,0.08,0.1,0.12],"labels":false,"grid":false,"title":null}},
    "color":{"field":"s","type":"nominal","legend":null}}},
  {"transform":[{"filter":"datum.k=='ar'"}],"mark":{"type":"line","interpolate":"basis","strokeWidth":2,"color":"#000000"},"encoding":{"x":{"field":"f","type":"quantitative","axis":null},"y":{"field":"g","type":"quantitative","axis":null},"detail":{"field":"id","type":"nominal"},"order":{"field":"o","type":"quantitative"}}},
  {"transform":[{"filter":"datum.k=='ah'"}],"mark":{"type":"point","shape":"triangle-up","filled":true,"color":"#000000","size":160,"opacity":1},"encoding":{"x":{"field":"f","type":"quantitative","axis":null},"y":{"field":"g","type":"quantitative","axis":null},"angle":{"field":"a","type":"quantitative","scale":null}}},
  {"transform":[{"filter":"datum.k=='t1'"}],"mark":{"type":"text","style":"t1"},"encoding":{"x":{"field":"f","type":"quantitative","axis":null},"y":{"field":"g","type":"quantitative","axis":null},"text":{"field":"t"}}},
  {"transform":[{"filter":"datum.k=='t1s'"}],"mark":{"type":"text","style":"t1s"},"encoding":{"x":{"field":"f","type":"quantitative","axis":null},"y":{"field":"g","type":"quantitative","axis":null},"text":{"field":"t"}}},
  {"transform":[{"filter":"datum.k=='t2'"}],"mark":{"type":"text","style":"t2"},"encoding":{"x":{"field":"f","type":"quantitative","axis":null},"y":{"field":"g","type":"quantitative","axis":null},"text":{"field":"t"}}},
  {"transform":[{"filter":"datum.k=='t2s'"}],"mark":{"type":"text","style":"t2s"},"encoding":{"x":{"field":"f","type":"quantitative","axis":null},"y":{"field":"g","type":"quantitative","axis":null},"text":{"field":"t"}}},
  {"transform":[{"filter":"datum.k=='t2p'"}],"mark":{"type":"text","style":"t2p"},"encoding":{"x":{"field":"f","type":"quantitative","axis":null},"y":{"field":"g","type":"quantitative","axis":null},"text":{"field":"t"}}},
  {"transform":[{"filter":"datum.k=='lab'"}],"mark":{"type":"text","style":"lab"},"encoding":{"x":{"field":"f","type":"quantitative","axis":null},"y":{"field":"g","type":"quantitative","axis":null},"text":{"field":"t"}}},
  {"transform":[{"filter":"datum.k=='lg'"}],"mark":{"type":"text","style":"lg"},"encoding":{"x":{"field":"f","type":"quantitative","axis":null},"y":{"field":"g","type":"quantitative","axis":null},"text":{"field":"t"}}},
  {"transform":[{"filter":"datum.k=='lgs'"}],"mark":{"type":"text","style":"lgs"},"encoding":{"x":{"field":"f","type":"quantitative","axis":null},"y":{"field":"g","type":"quantitative","axis":null},"text":{"field":"t"}}},
  {"transform":[{"filter":"datum.k=='lgp'"}],"mark":{"type":"text","style":"lgp"},"encoding":{"x":{"field":"f","type":"quantitative","axis":null},"y":{"field":"g","type":"quantitative","axis":null},"text":{"field":"t"}}},
  {"transform":[{"filter":"datum.k=='P'"}],"mark":{"type":"text","style":"P"},"encoding":{"x":{"field":"f","type":"quantitative","axis":null},"y":{"field":"g","type":"quantitative","axis":null},"text":{"field":"t"}}},
  {"transform":[{"filter":"datum.k=='Ps'"}],"mark":{"type":"text","style":"Ps"},"encoding":{"x":{"field":"f","type":"quantitative","axis":null},"y":{"field":"g","type":"quantitative","axis":null},"text":{"field":"t"}}}
 ]}
},
{"hconcat":[
 {"width":20,"height":340,"view":{"stroke":null},"data":{"values":[]},"mark":"point"},
 {"data":{"name":"r2"},
 "facet":{"column":{"field":"p","type":"nominal","header":{"labels":false,"title":null}}},
 "spacing":{"column":116},
 "bounds":"flush",
 "resolve":{"axis":{"x":"independent","y":"independent"}},
 "spec":{"width":445,"height":340,"resolve":{"axis":{"x":"independent","y":"independent"}},"layer":[
  {"transform":[{"filter":"datum.k=='c'"}],"mark":{"type":"line","interpolate":"monotone","strokeWidth":3.5,"strokeJoin":"round"},
   "encoding":{
    "x":{"field":"f","type":"quantitative","scale":{"type":"log","domain":[0.1,100000]},
     "axis":{"orient":"bottom","values":[0.1,0.2,0.3,0.4,0.5,0.6,0.7,0.8,0.9,1,2,3,4,5,6,7,8,9,10,20,30,40,50,60,70,80,90,100,200,300,400,500,600,700,800,900,1000,2000,3000,4000,5000,6000,7000,8000,9000,10000,20000,30000,40000,50000,60000,70000,80000,90000,100000],
      "labelExpr":"abs(log(datum.value)/LN10-round(log(datum.value)/LN10))<0.01 ? ['10⁻¹','10⁰','10¹','10²','10³','10⁴','10⁵'][round(log(datum.value)/LN10)+1] : ''",
      "labelFontSize":20,"labelPadding":16,"labelOverlap":false,"labelFlush":false,"labelBound":false,
      "title":"f / Hz","titleFontSize":22,"titlePadding":3,"grid":true,"gridWidth":1,
      "gridColor":{"condition":{"test":"abs(log(datum.value)/LN10-round(log(datum.value)/LN10))<0.01","value":"#d0d0d0"},"value":"#a8a8a8"},
      "gridDash":{"condition":{"test":"abs(log(datum.value)/LN10-round(log(datum.value)/LN10))<0.01","value":[]},"value":[1,3]}}},
    "y":{"field":"g","type":"quantitative","scale":{"domain":[0,0.13],"nice":false,"zero":false},
     "axis":{"orient":"left","values":[0,0.02,0.04,0.06,0.08,0.1,0.12],"labelExpr":"format(datum.value,'~g')","labelFontSize":20,"labelPadding":10,"title":"g(f) / Ω s cm²","titleFontSize":22,"titlePadding":5,"grid":true,"gridColor":"#d0d0d0"}},
    "color":{"field":"s","type":"nominal","scale":{"domain":["N2","He","L16","L20","J049","J105","J162","R50","R60","R70","R80"],"range":["#14148c","#fb8f1d","#2ecc80","#14148c","#1a87d0","#dd6524","#fcc445","#0f2c6b","#1f6fbe","#ec7658","#bb1530"]},"legend":null}}},
  {"transform":[{"filter":"datum.k=='leg'"}],"mark":{"type":"rule","strokeWidth":4},"encoding":{
    "x":{"field":"f","type":"quantitative","axis":{"orient":"top","values":[0.1,0.2,0.3,0.4,0.5,0.6,0.7,0.8,0.9,1,2,3,4,5,6,7,8,9,10,20,30,40,50,60,70,80,90,100,200,300,400,500,600,700,800,900,1000,2000,3000,4000,5000,6000,7000,8000,9000,10000,20000,30000,40000,50000,60000,70000,80000,90000,100000],"labels":false,"grid":false,"title":null}},
    "x2":{"field":"f2"},
    "y":{"field":"g","type":"quantitative","axis":{"orient":"right","values":[0,0.02,0.04,0.06,0.08,0.1,0.12],"labels":false,"grid":false,"title":null}},
    "color":{"field":"s","type":"nominal","legend":null}}},
  {"transform":[{"filter":"datum.k=='ar'"}],"mark":{"type":"line","interpolate":"basis","strokeWidth":2,"color":"#000000"},"encoding":{"x":{"field":"f","type":"quantitative","axis":null},"y":{"field":"g","type":"quantitative","axis":null},"detail":{"field":"id","type":"nominal"},"order":{"field":"o","type":"quantitative"}}},
  {"transform":[{"filter":"datum.k=='ah'"}],"mark":{"type":"point","shape":"triangle-up","filled":true,"color":"#000000","size":160,"opacity":1},"encoding":{"x":{"field":"f","type":"quantitative","axis":null},"y":{"field":"g","type":"quantitative","axis":null},"angle":{"field":"a","type":"quantitative","scale":null}}},
  {"transform":[{"filter":"datum.k=='t1'"}],"mark":{"type":"text","style":"t1"},"encoding":{"x":{"field":"f","type":"quantitative","axis":null},"y":{"field":"g","type":"quantitative","axis":null},"text":{"field":"t"}}},
  {"transform":[{"filter":"datum.k=='t1s'"}],"mark":{"type":"text","style":"t1s"},"encoding":{"x":{"field":"f","type":"quantitative","axis":null},"y":{"field":"g","type":"quantitative","axis":null},"text":{"field":"t"}}},
  {"transform":[{"filter":"datum.k=='t2'"}],"mark":{"type":"text","style":"t2"},"encoding":{"x":{"field":"f","type":"quantitative","axis":null},"y":{"field":"g","type":"quantitative","axis":null},"text":{"field":"t"}}},
  {"transform":[{"filter":"datum.k=='t2s'"}],"mark":{"type":"text","style":"t2s"},"encoding":{"x":{"field":"f","type":"quantitative","axis":null},"y":{"field":"g","type":"quantitative","axis":null},"text":{"field":"t"}}},
  {"transform":[{"filter":"datum.k=='t2p'"}],"mark":{"type":"text","style":"t2p"},"encoding":{"x":{"field":"f","type":"quantitative","axis":null},"y":{"field":"g","type":"quantitative","axis":null},"text":{"field":"t"}}},
  {"transform":[{"filter":"datum.k=='lab'"}],"mark":{"type":"text","style":"lab"},"encoding":{"x":{"field":"f","type":"quantitative","axis":null},"y":{"field":"g","type":"quantitative","axis":null},"text":{"field":"t"}}},
  {"transform":[{"filter":"datum.k=='lg'"}],"mark":{"type":"text","style":"lg"},"encoding":{"x":{"field":"f","type":"quantitative","axis":null},"y":{"field":"g","type":"quantitative","axis":null},"text":{"field":"t"}}},
  {"transform":[{"filter":"datum.k=='lgs'"}],"mark":{"type":"text","style":"lgs"},"encoding":{"x":{"field":"f","type":"quantitative","axis":null},"y":{"field":"g","type":"quantitative","axis":null},"text":{"field":"t"}}},
  {"transform":[{"filter":"datum.k=='lgp'"}],"mark":{"type":"text","style":"lgp"},"encoding":{"x":{"field":"f","type":"quantitative","axis":null},"y":{"field":"g","type":"quantitative","axis":null},"text":{"field":"t"}}},
  {"transform":[{"filter":"datum.k=='P'"}],"mark":{"type":"text","style":"P"},"encoding":{"x":{"field":"f","type":"quantitative","axis":null},"y":{"field":"g","type":"quantitative","axis":null},"text":{"field":"t"}}},
  {"transform":[{"filter":"datum.k=='Ps'"}],"mark":{"type":"text","style":"Ps"},"encoding":{"x":{"field":"f","type":"quantitative","axis":null},"y":{"field":"g","type":"quantitative","axis":null},"text":{"field":"t"}}}
 ]}
 }
],"spacing":0,"bounds":"flush"}
]
}
